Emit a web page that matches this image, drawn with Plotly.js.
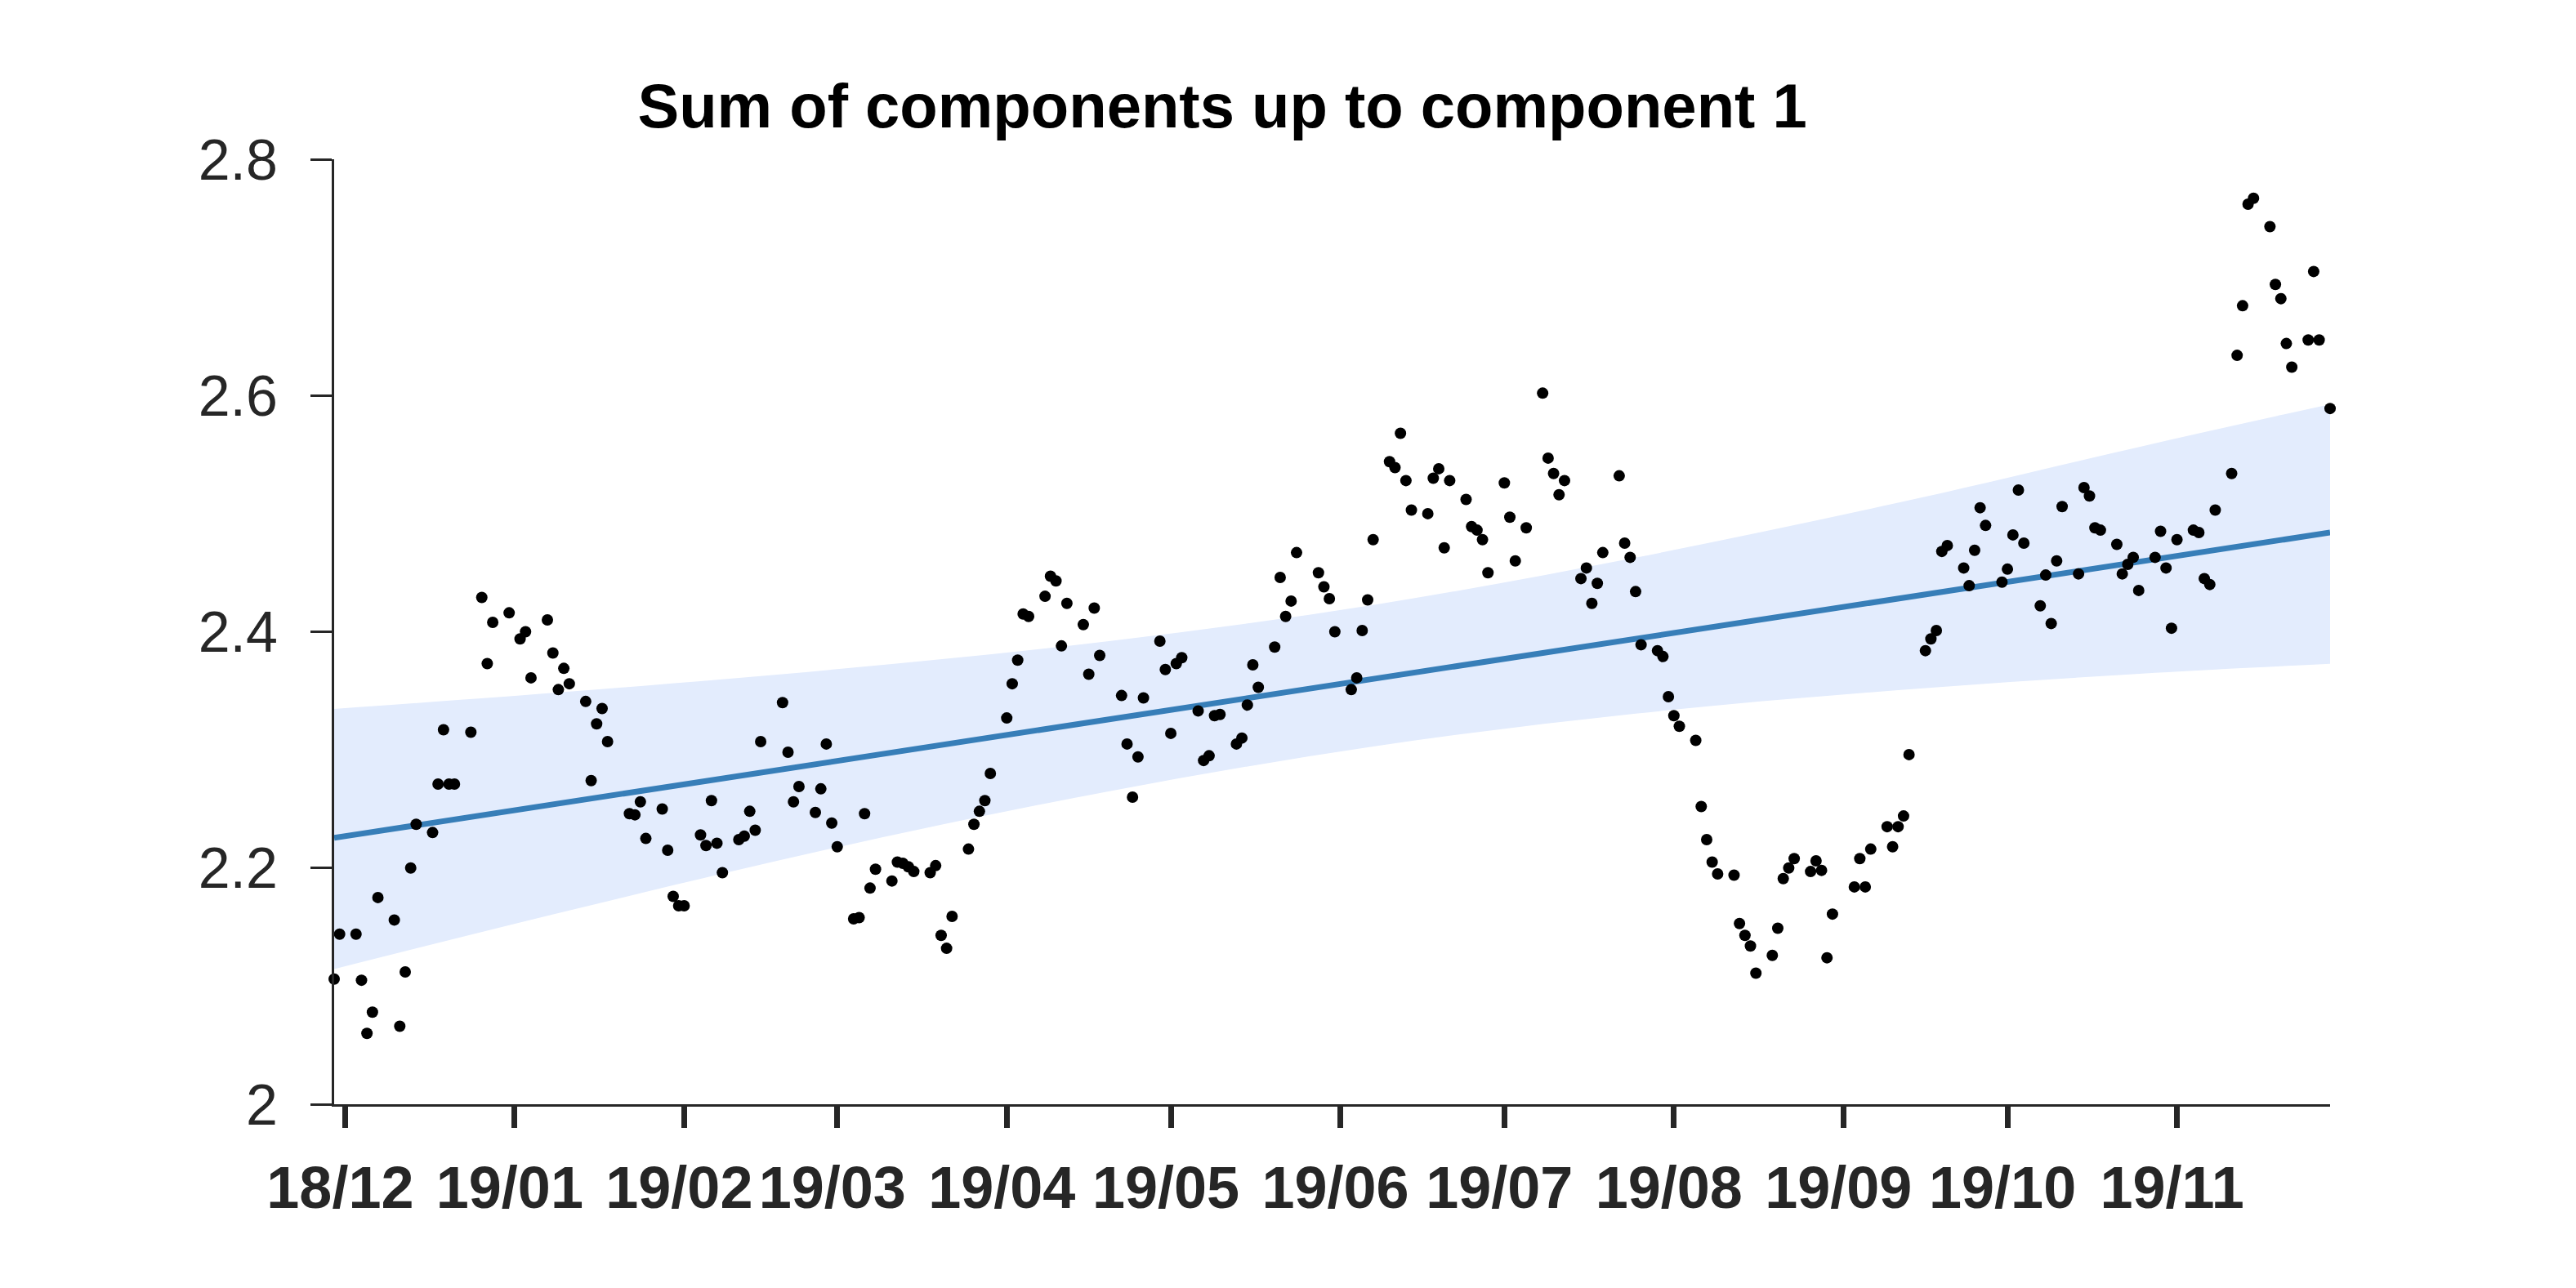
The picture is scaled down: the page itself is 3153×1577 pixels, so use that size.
<!DOCTYPE html>
<html>
<head>
<meta charset="utf-8">
<script src="https://cdn.plot.ly/plotly-3.0.1.min.js"></script>
<style>html,body{margin:0;padding:0;background:#fff;}#chart{width:3153px;height:1577px;}</style>
</head>
<body>
<div id="chart"></div>
<script>
// ---- data ----
const dates = [
"2018-11-29","2018-11-30","2018-12-03","2018-12-04","2018-12-05","2018-12-06","2018-12-07",
"2018-12-10","2018-12-11","2018-12-12","2018-12-13","2018-12-14",
"2018-12-17","2018-12-18","2018-12-19","2018-12-20","2018-12-21",
"2018-12-24","2018-12-26","2018-12-27","2018-12-28",
"2018-12-31","2019-01-02","2019-01-03","2019-01-04",
"2019-01-07","2019-01-08","2019-01-09","2019-01-10","2019-01-11",
"2019-01-14","2019-01-15","2019-01-16","2019-01-17","2019-01-18",
"2019-01-22","2019-01-23","2019-01-24","2019-01-25",
"2019-01-28","2019-01-29","2019-01-30","2019-01-31","2019-02-01",
"2019-02-04","2019-02-05","2019-02-06","2019-02-07","2019-02-08",
"2019-02-11","2019-02-12","2019-02-13","2019-02-14","2019-02-15",
"2019-02-19","2019-02-20","2019-02-21","2019-02-22",
"2019-02-25","2019-02-26","2019-02-27","2019-02-28","2019-03-01",
"2019-03-04","2019-03-05","2019-03-06","2019-03-07","2019-03-08",
"2019-03-11","2019-03-12","2019-03-13","2019-03-14","2019-03-15",
"2019-03-18","2019-03-19","2019-03-20","2019-03-21","2019-03-22",
"2019-03-25","2019-03-26","2019-03-27","2019-03-28","2019-03-29",
"2019-04-01","2019-04-02","2019-04-03","2019-04-04","2019-04-05",
"2019-04-08","2019-04-09","2019-04-10","2019-04-11","2019-04-12",
"2019-04-15","2019-04-16","2019-04-17","2019-04-18",
"2019-04-22","2019-04-23","2019-04-24","2019-04-25","2019-04-26",
"2019-04-29","2019-04-30","2019-05-01","2019-05-02","2019-05-03",
"2019-05-06","2019-05-07","2019-05-08","2019-05-09","2019-05-10",
"2019-05-13","2019-05-14","2019-05-15","2019-05-16","2019-05-17",
"2019-05-20","2019-05-21","2019-05-22","2019-05-23","2019-05-24",
"2019-05-28","2019-05-29","2019-05-30","2019-05-31",
"2019-06-03","2019-06-04","2019-06-05","2019-06-06","2019-06-07",
"2019-06-10","2019-06-11","2019-06-12","2019-06-13","2019-06-14",
"2019-06-17","2019-06-18","2019-06-19","2019-06-20","2019-06-21",
"2019-06-24","2019-06-25","2019-06-26","2019-06-27","2019-06-28",
"2019-07-01","2019-07-02","2019-07-03","2019-07-05",
"2019-07-08","2019-07-09","2019-07-10","2019-07-11","2019-07-12",
"2019-07-15","2019-07-16","2019-07-17","2019-07-18","2019-07-19",
"2019-07-22","2019-07-23","2019-07-24","2019-07-25","2019-07-26",
"2019-07-29","2019-07-30","2019-07-31","2019-08-01","2019-08-02",
"2019-08-05","2019-08-06","2019-08-07","2019-08-08","2019-08-09",
"2019-08-12","2019-08-13","2019-08-14","2019-08-15","2019-08-16",
"2019-08-19","2019-08-20","2019-08-21","2019-08-22","2019-08-23",
"2019-08-26","2019-08-27","2019-08-28","2019-08-29","2019-08-30",
"2019-09-03","2019-09-04","2019-09-05","2019-09-06",
"2019-09-09","2019-09-10","2019-09-11","2019-09-12","2019-09-13",
"2019-09-16","2019-09-17","2019-09-18","2019-09-19","2019-09-20",
"2019-09-23","2019-09-24","2019-09-25","2019-09-26","2019-09-27",
"2019-09-30","2019-10-01","2019-10-02","2019-10-03","2019-10-04",
"2019-10-07","2019-10-08","2019-10-09","2019-10-10","2019-10-11",
"2019-10-14","2019-10-15","2019-10-16","2019-10-17","2019-10-18",
"2019-10-21","2019-10-22","2019-10-23","2019-10-24","2019-10-25",
"2019-10-28","2019-10-29","2019-10-30","2019-10-31","2019-11-01",
"2019-11-04","2019-11-05","2019-11-06","2019-11-07","2019-11-08",
"2019-11-11","2019-11-12","2019-11-13","2019-11-14","2019-11-15",
"2019-11-18","2019-11-19","2019-11-20","2019-11-21","2019-11-22",
"2019-11-25","2019-11-26","2019-11-27","2019-11-29"
];
const values = [
2.106,2.144,2.144,2.105,2.060,2.078,2.175,
2.156,2.066,2.112,2.200,2.237,
2.230,2.271,2.317,2.271,2.271,
2.315,2.429,2.373,2.408,
2.416,2.394,2.400,2.361,
2.410,2.382,2.351,2.369,2.356,
2.341,2.274,2.322,2.335,2.307,
2.246,2.245,2.256,2.225,
2.250,2.215,2.176,2.168,2.168,
2.228,2.219,2.257,2.221,2.196,
2.224,2.227,2.248,2.232,2.307,
2.340,2.298,2.256,2.269,
2.247,2.267,2.305,2.238,2.218,
2.157,2.158,2.246,2.183,2.199,
2.189,2.205,2.204,2.201,2.197,
2.196,2.202,2.143,2.132,2.159,
2.216,2.237,2.248,2.257,2.280,
2.327,2.356,2.376,2.415,2.413,
2.430,2.447,2.443,2.388,2.424,
2.406,2.364,2.420,2.380,
2.346,2.305,2.260,2.294,2.344,
2.392,2.368,2.314,2.373,2.378,
2.333,2.291,2.295,2.329,2.330,
2.305,2.310,2.338,2.372,2.353,
2.387,2.446,2.413,2.426,2.467,
2.450,2.438,2.428,2.400,
2.351,2.361,2.401,2.427,2.478,
2.544,2.539,2.568,2.528,2.503,
2.500,2.530,2.538,2.471,2.528,
2.512,2.489,2.486,2.478,2.450,
2.526,2.497,2.460,2.488,
2.602,2.547,2.534,2.516,2.528,
2.445,2.454,2.424,2.441,2.467,
2.532,2.475,2.463,2.434,2.389,
2.384,2.379,2.345,2.329,2.320,
2.308,2.252,2.224,2.205,2.195,
2.194,2.153,2.143,2.134,2.111,
2.126,2.149,2.191,2.200,2.208,
2.197,2.206,2.198,2.124,2.161,
2.184,2.208,2.184,2.216,
2.235,2.218,2.235,2.244,2.296,
2.384,2.394,2.401,2.468,2.473,
2.454,2.439,2.469,2.505,2.490,
2.442,2.453,2.482,2.520,2.475,
2.422,2.448,2.407,2.460,2.506,
2.449,2.522,2.515,2.488,2.486,
2.474,2.449,2.457,2.463,2.435,
2.463,2.485,2.454,2.403,2.478,
2.486,2.484,2.445,2.440,2.503,
2.534,2.634,2.676,2.762,2.767,
2.743,2.694,2.682,2.644,2.624,
2.647,2.705,2.647,2.589
];
// trend line (end points)
const trendDates = ["2018-11-29","2019-11-29"];
const trendValues = [2.2255, 2.4840];
// confidence band
const bandDates = ["2018-11-29","2019-01-11","2019-03-03","2019-04-20","2019-06-07","2019-07-25","2019-09-11","2019-10-28","2019-11-29"];
const bandUpper = [2.3346,2.3493,2.3692,2.3922,2.4227,2.4628,2.5092,2.5596,2.5926];
const bandLower = [2.1144,2.1640,2.2196,2.2652,2.3029,2.3307,2.3505,2.3652,2.3728];
// axis ticks
const xTickVals = ["2018-12-01","2019-01-01","2019-02-01","2019-03-01","2019-04-01","2019-05-01","2019-06-01","2019-07-01","2019-08-01","2019-09-01","2019-10-01","2019-11-01"];
const xTickText = ["18/12","19/01","19/02","19/03","19/04","19/05","19/06","19/07","19/08","19/09","19/10","19/11"];
const yTickVals = [2, 2.2, 2.4, 2.6, 2.8];
const yTickText = ["2","2.2","2.4","2.6","2.8"];
const titleText = "Sum of components up to component 1";

const axisColor = "#262626";
const traces = [
  {x: bandDates, y: bandLower, type: "scatter", mode: "lines", line: {width: 0, shape: "spline"}, hoverinfo: "skip", showlegend: false},
  {x: bandDates, y: bandUpper, type: "scatter", mode: "lines", line: {width: 0, shape: "spline"}, fill: "tonexty", fillcolor: "rgb(227,236,253)", hoverinfo: "skip", showlegend: false},
  {x: trendDates, y: trendValues, type: "scatter", mode: "lines", line: {color: "#377eb8", width: 7}, showlegend: false},
  {x: dates, y: values, type: "scatter", mode: "markers", marker: {color: "#000000", size: 14}, cliponaxis: false, showlegend: false}
];
const layout = {
  width: 3153, height: 1577,
  margin: {l: 409, r: 301, t: 195, b: 225},
  paper_bgcolor: "#ffffff", plot_bgcolor: "#ffffff",
  showlegend: false,
  title: {text: titleText, x: 0.4745, xref: "container", xanchor: "center", y: 0.918, yref: "container", yanchor: "middle",
          font: {family: "Liberation Sans, Arial, sans-serif", size: 76, color: "#000000", weight: "bold"}},
  xaxis: {type: "date", range: [dates[0], dates[dates.length-1]], showgrid: false, zeroline: false,
          showline: true, linecolor: axisColor, linewidth: 3,
          ticks: "outside", ticklen: 26, tickwidth: 7, tickcolor: axisColor,
          tickmode: "array", tickvals: xTickVals, ticktext: xTickText,
          ticklabelstandoff: 12, ticklabelshift: -6,
          tickfont: {family: "Liberation Sans, Arial, sans-serif", size: 72, color: axisColor, weight: "bold"}},
  yaxis: {range: [2, 2.8], showgrid: false, zeroline: false,
          showline: true, linecolor: axisColor, linewidth: 3,
          ticks: "outside", ticklen: 26, tickwidth: 3, tickcolor: axisColor,
          tickmode: "array", tickvals: yTickVals, ticktext: yTickText,
          ticklabelstandoff: 26,
          tickfont: {family: "Liberation Sans, Arial, sans-serif", size: 70, color: axisColor}}
};
Plotly.newPlot("chart", traces, layout, {staticPlot: true, displayModeBar: false});
</script>
</body>
</html>
